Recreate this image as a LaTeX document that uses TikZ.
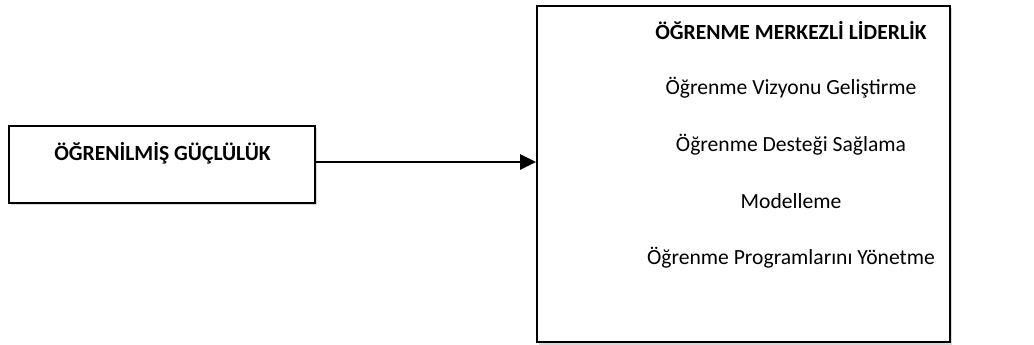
\documentclass[tikz,border=0pt]{standalone}
\usepackage{fontspec}
\setmainfont{Carlito}
\usetikzlibrary{arrows.meta,shadows}
\begin{document}
\begin{tikzpicture}[x=1pt,y=-1pt,
  box/.style={draw=black, line width=2pt, fill=white, inner sep=0pt,
    drop shadow={opacity=0.3, shadow xshift=1.5pt, shadow yshift=-2.5pt}},
  lbl/.style={font=\fontsize{21.6pt}{25pt}\selectfont, inner sep=0pt, anchor=center},
  ttl/.style={lbl, font=\fontsize{21.6pt}{25pt}\selectfont\bfseries},
  conn/.style={line width=2.8pt, -{Triangle[length=16pt,width=15pt]}}]
\useasboundingbox (0,0) rectangle (1034,345);
\node[box, minimum width=306pt, minimum height=77pt] (L) at (162,164) {};
\node[box, minimum width=413pt, minimum height=336pt] (R) at (743.5,174) {};
\node[ttl] (Lt) at (162.5,153) {ÖĞRENİLMİŞ GÜÇLÜLÜK};
\node[ttl] (Rt) at (791,31) {ÖĞRENME MERKEZLİ LİDERLİK};
\node[lbl] (r1) at (791,88) {Öğrenme Vizyonu Geliştirme};
\node[lbl] (r2) at (791,145) {Öğrenme Desteği Sağlama};
\node[lbl] (r3) at (791,201) {Modelleme};
\node[lbl] (r4) at (791,258) {Öğrenme Programlarını Yönetme};
\coordinate (s) at ([yshift=2pt]L.east);
\draw[conn] (s) -- (s -| R.west);
\end{tikzpicture}
\end{document}
